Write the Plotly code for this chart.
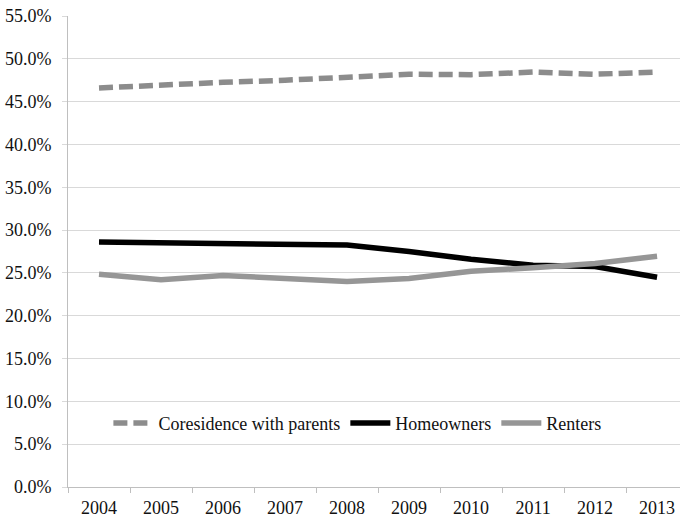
import plotly.graph_objects as go

years = ["2004", "2005", "2006", "2007", "2008", "2009", "2010", "2011", "2012", "2013"]
coresidence = [46.6, 47.0, 47.25, 47.5, 47.8, 48.2, 48.15, 48.45, 48.2, 48.45]
homeowners = [28.6, 28.5, 28.45, 28.35, 28.25, 27.5, 26.6, 25.9, 25.75, 24.5]
renters = [24.85, 24.2, 24.7, 24.3, 24.0, 24.35, 25.2, 25.6, 26.1, 26.95]

y_ticks = [0, 5, 10, 15, 20, 25, 30, 35, 40, 45, 50, 55]
y_tick_text = [f"{v:.1f}%" for v in y_ticks]

font_family = "Liberation Serif, Times New Roman, serif"

fig = go.Figure()
fig.add_trace(go.Scatter(
    x=years, y=coresidence, mode="lines", name="Coresidence with parents",
    line=dict(color="#8c8c8c", width=5.5, dash="14px,6px"),
))
fig.add_trace(go.Scatter(
    x=years, y=homeowners, mode="lines", name="Homeowners",
    line=dict(color="#000000", width=5.5),
))
fig.add_trace(go.Scatter(
    x=years, y=renters, mode="lines", name="Renters",
    line=dict(color="#969696", width=5.5),
))

fig.update_layout(
    width=680, height=519,
    margin=dict(l=68, r=0, t=16, b=32),
    paper_bgcolor="white", plot_bgcolor="white",
    font=dict(family=font_family, size=18, color="#111111"),
    showlegend=True,
    legend=dict(
        orientation="h", x=0.066, y=0.135, xanchor="left", yanchor="middle",
        bgcolor="rgba(0,0,0,0)", font=dict(size=18), itemwidth=40,
    ),
    xaxis=dict(
        type="category", range=[-0.5, 9.37],
        showgrid=False, showline=True, linecolor="#bfbfbf", linewidth=1,
        ticks="outside", tickson="boundaries", ticklen=5, tickcolor="#bfbfbf",
        tickfont=dict(size=18), ticklabelstandoff=4, fixedrange=True,
    ),
    yaxis=dict(
        range=[0, 55], tickvals=y_ticks, ticktext=y_tick_text,
        showgrid=True, gridcolor="#d9d9d9", gridwidth=1,
        showline=True, linecolor="#bfbfbf", linewidth=1,
        ticks="outside", ticklen=5, tickcolor="#d9d9d9",
        zeroline=False, tickfont=dict(size=18), ticklabelstandoff=7,
    ),
)

fig.write_html("out.html")
